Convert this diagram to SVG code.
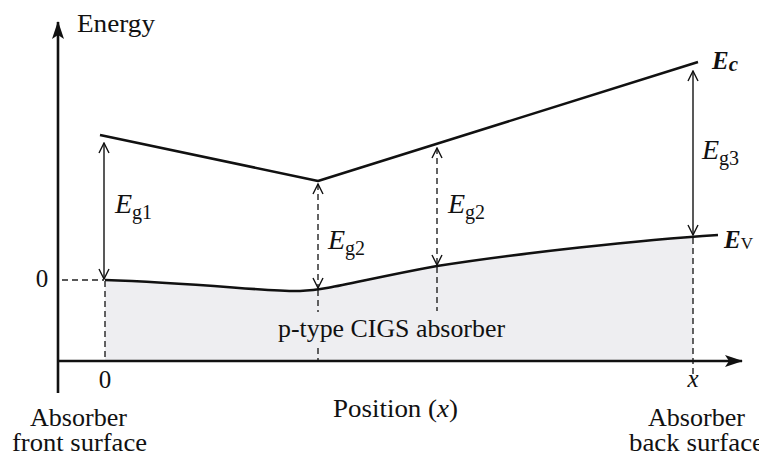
<svg xmlns="http://www.w3.org/2000/svg" width="759" height="460" viewBox="0 0 759 460" font-family="'Liberation Serif', 'Times New Roman', 'DejaVu Serif', serif">
<defs>
<marker id="open" viewBox="0 0 12 12" refX="11" refY="6" markerWidth="12" markerHeight="12" markerUnits="userSpaceOnUse" orient="auto-start-reverse">
<path d="M1,1 L11,6 L1,11" fill="none" stroke="#111" stroke-width="1.4"/>
</marker>
<marker id="solid" viewBox="0 0 18 12" refX="17" refY="6" markerWidth="18" markerHeight="12" markerUnits="userSpaceOnUse" orient="auto">
<path d="M0,0 L18,6 L0,12 L4,6 Z" fill="#111"/>
</marker>
<style>
text{fill:#111}
.lbl{font-size:25px}
.E{font-size:28px;font-style:italic}
.sub{font-size:20px;font-style:normal}
.band{fill:none;stroke:#111;stroke-width:2.6;stroke-linejoin:round}
.axis{fill:none;stroke:#111;stroke-width:2.6}
.dash{fill:none;stroke:#222;stroke-width:1.4;stroke-dasharray:6,4}
.arr{fill:none;stroke:#222;stroke-width:1.5}
.arrd{fill:none;stroke:#222;stroke-width:1.4;stroke-dasharray:6,4}
</style>
</defs>
<rect width="759" height="460" fill="#fff"/>
<g id="absorber-region">
<path d="M105,280 C200,283 270,292 300,291 C330,290 360,280 437,266 C520,253 640,240 693,237 L693,361 L105,361 Z" fill="#eeeef1"/>
</g>
<g id="connectors">
<path class="dash" d="M62,280 H104"/>
<path class="dash" d="M105,281 V361"/>
<path class="dash" d="M318,290 V312 M318,348 V361"/>
<path class="dash" d="M437,267 V311"/>
<path class="dash" d="M693,238 V378"/>
<path class="arr" d="M104,143 V279" marker-start="url(#open)" marker-end="url(#open)"/>
<path class="arrd" d="M318,184 V288" marker-start="url(#open)" marker-end="url(#open)"/>
<path class="arrd" d="M437,148 V265" marker-start="url(#open)" marker-end="url(#open)"/>
<path class="arr" d="M693,71 V235" marker-start="url(#open)" marker-end="url(#open)"/>
</g>
<g id="axes">
<path class="axis" d="M58,393 V22" marker-end="url(#solid)"/>
<path class="axis" d="M58,361 H742" marker-end="url(#solid)"/>
</g>
<g id="Ec">
<path class="band" d="M100,135 L318,181 L698,62"/>
<text x="712" y="69" font-size="25" font-weight="bold" font-style="italic">E<tspan font-size="21" dy="2">c</tspan></text>
</g>
<g id="Ev">
<path class="band" d="M105,280 C200,283 270,292 300,291 C330,290 360,280 437,266 C520,253 640,240 718,235"/>
<text x="724" y="248" font-size="25" font-weight="bold" font-style="italic">E<tspan font-size="17" font-style="normal" font-weight="normal" dy="1">V</tspan></text>
</g>
<g id="labels">
<text class="lbl" x="77" y="32" textLength="78" lengthAdjust="spacingAndGlyphs">Energy</text>
<text class="lbl" x="42" y="287" text-anchor="middle">0</text>
<text class="lbl" x="105" y="388" text-anchor="middle">0</text>
<text class="lbl" x="693" y="387" text-anchor="middle" font-style="italic">x</text>
<text class="E" x="115" y="213">E<tspan class="sub" dy="6">g1</tspan></text>
<text class="E" x="328" y="249">E<tspan class="sub" dy="6">g2</tspan></text>
<text class="E" x="448" y="213">E<tspan class="sub" dy="6">g2</tspan></text>
<text class="E" x="702" y="159">E<tspan class="sub" dy="6">g3</tspan></text>
<text class="lbl" x="278" y="337" textLength="227" lengthAdjust="spacingAndGlyphs">p-type CIGS absorber</text>
<text class="lbl" x="333" y="417" textLength="125" lengthAdjust="spacingAndGlyphs">Position (<tspan font-style="italic">x</tspan>)</text>
<text class="lbl" x="30" y="426" textLength="97" lengthAdjust="spacingAndGlyphs">Absorber</text>
<text class="lbl" x="12" y="451" textLength="135" lengthAdjust="spacingAndGlyphs">front surface</text>
<text class="lbl" x="648" y="426" textLength="97" lengthAdjust="spacingAndGlyphs">Absorber</text>
<text class="lbl" x="629" y="451" textLength="135" lengthAdjust="spacingAndGlyphs">back surface</text>
</g>
</svg>
